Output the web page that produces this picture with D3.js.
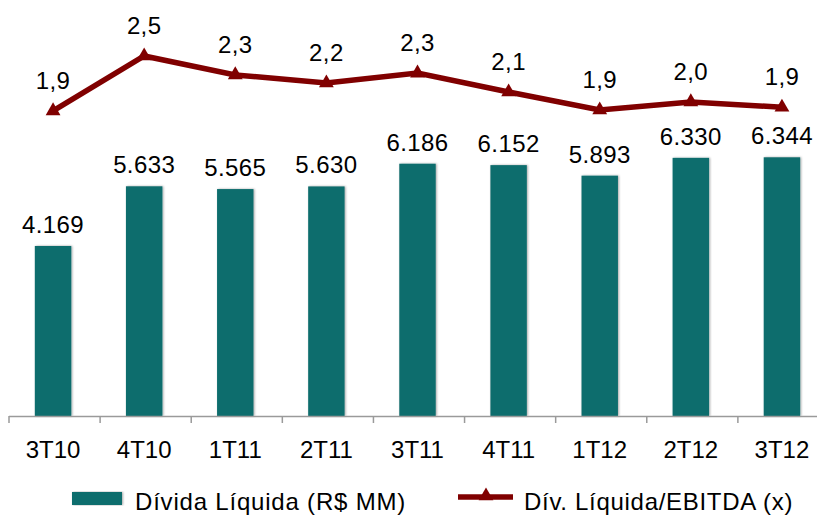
<!DOCTYPE html>
<html><head><meta charset="utf-8">
<script src="https://cdn.jsdelivr.net/npm/d3@7/dist/d3.min.js"></script>
<style>
html,body{margin:0;padding:0;background:#fff;}
svg{display:block;font-family:"Liberation Sans",Arial,sans-serif;}
</style></head>
<body>
<svg id="chart" width="817" height="515"></svg>
<script>
const categories = ["3T10","4T10","1T11","2T11","3T11","4T11","1T12","2T12","3T12"];
const dividaLiquida = [4169,5633,5565,5630,6186,6152,5893,6330,6344];
const divEbitda = [1.89,2.50,2.29,2.20,2.31,2.10,1.90,1.99,1.93];
const divEbitdaLabels = ["1,9","2,5","2,3","2,2","2,3","2,1","1,9","2,0","1,9"];
const legendLabels = ["Dívida Líquida (R$ MM)","Dív. Líquida/EBITDA (x)"];

const svg = d3.select("#chart");
const barColor = "#116d6d", lineColor = "#800000";

const x = d3.scaleBand().domain(categories).range([9, 829]).paddingInner(0.6).paddingOuter(0.3);
const y = d3.scaleLinear().domain([0, 10000]).range([416, 8.2]);
const y2 = d3.scaleLinear().domain([0, 3]).range([281, 11]);

const defs = svg.append("defs");
const f = defs.append("filter").attr("id","sh").attr("x","-20%").attr("y","-5%").attr("width","140%").attr("height","110%");
f.append("feDropShadow").attr("dx",1).attr("dy",0).attr("stdDeviation",1).attr("flood-color","#000").attr("flood-opacity",0.35);

// bars
svg.append("g").selectAll("rect").data(categories).join("rect")
  .attr("x", d => x(d) - 1.5)
  .attr("y", (d,i) => y(dividaLiquida[i]))
  .attr("width", x.bandwidth())
  .attr("height", (d,i) => y(0) - y(dividaLiquida[i]))
  .attr("fill", barColor)
  .attr("filter","url(#sh)");

// bar labels
const fmtInt = d3.formatLocale({decimal:",", thousands:".", grouping:[3], currency:["R$",""]}).format(",d");
svg.append("g").selectAll("text").data(categories).join("text")
  .attr("x", d => x(d) + x.bandwidth()/2 - 1.5)
  .attr("y", (d,i) => y(dividaLiquida[i]) - 13)
  .attr("text-anchor","middle")
  .attr("font-size", 24)
  .attr("letter-spacing", 0.4)
  .attr("fill","#000")
  .text((d,i) => fmtInt(dividaLiquida[i]));

// x axis
const step = x.step();
const axisG = svg.append("g");
axisG.append("line").attr("x1", x.range()[0]).attr("x2", 817).attr("y1", 416.5).attr("y2", 416.5)
  .attr("stroke","#9a9a9a").attr("stroke-width",1.5);
const bounds = categories.map(d => x(d) - step*x.paddingInner()/2).concat([x(categories[categories.length-1]) + x.bandwidth() + step*x.paddingInner()/2]);
axisG.selectAll("line.tick").data(bounds).join("line").attr("class","tick")
  .attr("x1", d => d).attr("x2", d => d).attr("y1", 416).attr("y2", 423)
  .attr("stroke","#9a9a9a").attr("stroke-width",1.5);
axisG.selectAll("text").data(categories).join("text")
  .attr("x", d => x(d) + x.bandwidth()/2 - 1.5)
  .attr("y", 458)
  .attr("text-anchor","middle")
  .attr("font-size", 24)
  .text(d => d);

// line
const cx = d => x(d) + x.bandwidth()/2 - 1.5;
const line = d3.line().x((d,i) => cx(categories[i])).y(d => y2(d));
svg.append("path").datum(divEbitda).attr("d", line)
  .attr("fill","none").attr("stroke", lineColor).attr("stroke-width",5.5).attr("stroke-linejoin","miter");
const tri = d3.symbol().type(d3.symbolTriangle).size(95);
svg.append("g").selectAll("path").data(divEbitda).join("path")
  .attr("d", tri)
  .attr("transform", (d,i) => `translate(${cx(categories[i])},${y2(d)})`)
  .attr("fill", lineColor);
svg.append("g").selectAll("text").data(divEbitda).join("text")
  .attr("x", (d,i) => cx(categories[i]))
  .attr("y", d => y2(d) - 22)
  .attr("text-anchor","middle")
  .attr("font-size", 24)
  .attr("letter-spacing", 0.4)
  .text((d,i) => divEbitdaLabels[i]);

// legend
const lg = svg.append("g");
lg.append("rect").attr("x",72).attr("y",492).attr("width",50).attr("height",13).attr("fill",barColor).attr("filter","url(#sh)");
lg.append("text").attr("x",135).attr("y",510).attr("font-size",24).attr("letter-spacing",0.8).text(legendLabels[0]);
lg.append("line").attr("x1",458).attr("x2",513).attr("y1",497).attr("y2",497).attr("stroke",lineColor).attr("stroke-width",5.5);
lg.append("path").attr("d",tri).attr("transform","translate(486,496)").attr("fill",lineColor);
lg.append("text").attr("x",524).attr("y",510).attr("font-size",24).attr("letter-spacing",0.7).text(legendLabels[1]);
</script>
</body></html>
